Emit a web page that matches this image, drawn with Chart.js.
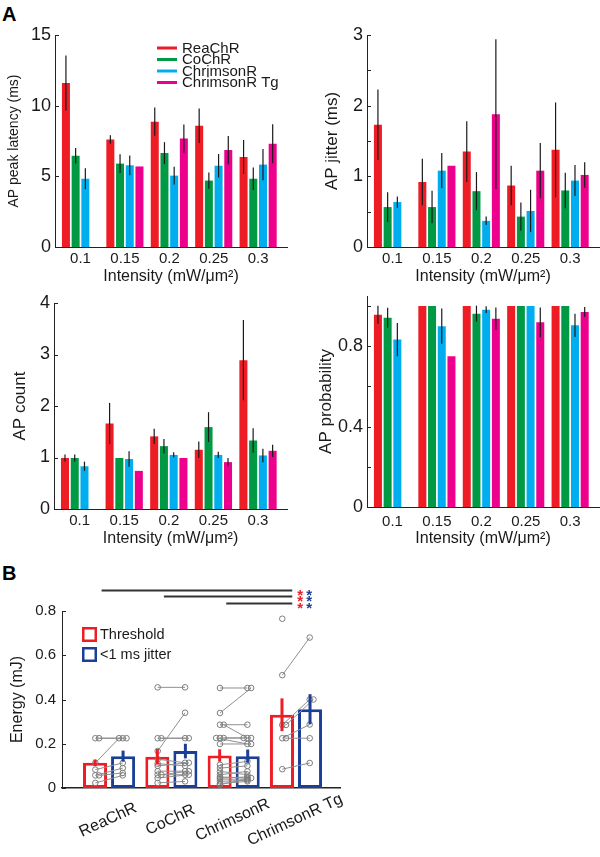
<!DOCTYPE html>
<html>
<head>
<meta charset="utf-8">
<script src="https://cdn.jsdelivr.net/npm/chart.js@4.4.1/dist/chart.umd.min.js"></script>
<style>
  html, body { margin: 0; padding: 0; background: #fff; }
  body { width: 600px; height: 857px; position: relative; overflow: hidden; }
  canvas { position: absolute; }
  .panel { position: absolute; font: bold 20px "Liberation Sans", Arial, sans-serif; color: #000; line-height: 23px; }
</style>
</head>
<body>
<div class="panel" style="left:2px;top:3px">A</div>
<div class="panel" style="left:2px;top:562px">B</div>
<canvas id="cLat" width="300" height="290" style="left:0px;top:0px;width:300px;height:290px"></canvas>
<canvas id="cJit" width="300" height="290" style="left:300px;top:0px;width:300px;height:290px"></canvas>
<canvas id="cCnt" width="300" height="280" style="left:0px;top:280px;width:300px;height:280px"></canvas>
<canvas id="cProb" width="300" height="280" style="left:300px;top:280px;width:300px;height:280px"></canvas>
<canvas id="cEnergy" width="360" height="297" style="left:0px;top:560px;width:360px;height:297px"></canvas>
<script>
// ---------------- Panel A data ----------------
const intensities = [0.1, 0.15, 0.2, 0.25, 0.3];
const intensityLabels = ['0.1', '0.15', '0.2', '0.25', '0.3'];
const series = ['ReaChR', 'CoChR', 'ChrimsonR', 'ChrimsonR Tg'];

// AP peak latency (ms)
const latReaChR      = [11.6, 7.6, 8.87, 8.58, 6.37];
const latCoChR       = [6.46, 5.9, 6.65, 4.7, 4.83];
const latChrimsonR   = [4.83, 5.78, 5.05, 5.75, 5.83];
const latChrimsonRTg = [null, 5.7, 7.67, 6.86, 7.31];
const latErrReaChR      = [1.95, 0.3, 1.0, 1.22, 1.2];
const latErrCoChR       = [0.55, 0.67, 0.77, 0.58, 0.8];
const latErrChrimsonR   = [0.75, 0.7, 0.63, 0.83, 1.1];
const latErrChrimsonRTg = [null, 0, 1.0, 1.0, 1.38];

// AP jitter (ms)
const jitReaChR      = [1.73, 0.92, 1.35, 0.87, 1.375];
const jitCoChR       = [0.565, 0.565, 0.79, 0.43, 0.8];
const jitChrimsonR   = [0.636, 1.08, 0.37, 0.51, 0.94];
const jitChrimsonRTg = [null, 1.15, 1.88, 1.08, 1.02];
const jitErrReaChR      = [0.5, 0.33, 0.43, 0.28, 0.67];
const jitErrCoChR       = [0.21, 0.23, 0.27, 0.2, 0.25];
const jitErrChrimsonR   = [0.08, 0.25, 0.06, 0.3, 0.22];
const jitErrChrimsonRTg = [null, 0, 1.06, 0.39, 0.18];

// AP count
const cntReaChR      = [0.99, 1.66, 1.41, 1.15, 2.89];
const cntCoChR       = [0.99, 0.99, 1.22, 1.59, 1.33];
const cntChrimsonR   = [0.83, 0.97, 1.05, 1.05, 1.04];
const cntChrimsonRTg = [null, 0.74, 0.99, 0.91, 1.13];
const cntErrReaChR      = [0.07, 0.4, 0.15, 0.16, 0.78];
const cntErrCoChR       = [0.07, 0, 0.14, 0.29, 0.24];
const cntErrChrimsonR   = [0.09, 0.15, 0.05, 0.06, 0.13];
const cntErrChrimsonRTg = [null, 0, 0, 0.08, 0.12];

// AP probability
const probReaChR      = [0.957, 1, 1, 1, 1];
const probCoChR       = [0.942, 1, 0.962, 1, 1];
const probChrimsonR   = [0.833, 0.9, 0.982, 1, 0.904];
const probChrimsonRTg = [null, 0.75, 0.937, 0.919, 0.97];
const probErrReaChR      = [0.045, 0, 0, 0, 0];
const probErrCoChR       = [0.05, 0, 0.04, 0, 0];
const probErrChrimsonR   = [0.083, 0.088, 0.017, 0, 0.058];
const probErrChrimsonRTg = [null, 0, 0.056, 0.074, 0.025];

// ---------------- Panel B data ----------------
const constructs = ['ReaChR', 'CoChR', 'ChrimsonR', 'ChrimsonR Tg'];
const energyThr    = [0.114, 0.141, 0.147, 0.331];
const energyThrErr = [0.015, 0.035, 0.028, 0.074];
const energyJit    = [0.144, 0.167, 0.144, 0.356];
const energyJitErr = [0.025, 0.033, 0.030, 0.068];

// individual cells (threshold energy, <1 ms jitter energy), paired by index
const reachrThr    = [0.225, 0.225, 0.113, 0.083, 0.057, 0.057, 0.023];
const reachrJit    = [0.225, 0.225, 0.225, 0.113, 0.090, 0.068, 0.057];
const cochrThr     = [0.455, 0.225, 0.225, 0.167, 0.130, 0.110, 0.100, 0.076, 0.060, 0.060, 0.045, 0.023];
const cochrJit     = [0.455, 0.225, 0.225, 0.340, 0.114, 0.100, 0.114, 0.076, 0.060, 0.076, 0.060, 0.030];
const chrimsonrThr = [0.452, 0.339, 0.286, 0.286, 0.226, 0.226, 0.226, 0.199, 0.105, 0.090, 0.075, 0.060, 0.050, 0.045, 0.040, 0.030, 0.020, 0.015];
const chrimsonrJit = [0.452, 0.452, 0.286, 0.226, 0.226, 0.226, 0.199, 0.199, 0.120, 0.100, 0.060, 0.075, 0.045, 0.050, 0.040, 0.035, 0.030, 0.045];
const tgThr        = [0.765, 0.510, 0.285, 0.285, 0.225, 0.225, 0.085];
const tgJit        = [null, 0.680, 0.400, 0.400, 0.287, 0.225, 0.113];

const sigFrom = ['ReaChR', 'CoChR', 'ChrimsonR'];
const sigTo = 'ChrimsonR Tg';
const sigMark = '*';

// ---------------- styles ----------------
const FONT = '"Liberation Sans", Arial, Helvetica, sans-serif';
const TXT = '#1a1a1a';
const AXIS = '#222';
const seriesColors = ['#EE1C25', '#009A44', '#00AEEF', '#EC008C'];
const RED = '#EE1C25';
const BLUE = '#1B3F96';
Chart.defaults.font.family = FONT;
Chart.defaults.color = TXT;

// ---------------- plugins ----------------
const errorBars = {
  id: 'errorBars',
  afterDatasetsDraw(chart) {
    const ctx = chart.ctx;
    const ys = chart.scales.y;
    chart.data.datasets.forEach((ds, di) => {
      if (!ds.errors) return;
      const meta = chart.getDatasetMeta(di);
      meta.data.forEach((el, i) => {
        const v = ds.data[i].y;
        const e = ds.errors[i];
        if (v == null || !e) return;
        ctx.save();
        ctx.strokeStyle = ds.errorColor || '#1a1a1a';
        ctx.lineWidth = ds.errorWidth || 1.2;
        ctx.beginPath();
        ctx.moveTo(el.x, ys.getPixelForValue(v - e));
        ctx.lineTo(el.x, ys.getPixelForValue(v + e));
        ctx.stroke();
        ctx.restore();
      });
    });
  }
};

const inwardTicks = {
  id: 'inwardTicks',
  afterDraw(chart) {
    const ctx = chart.ctx, ys = chart.scales.y, x0 = chart.chartArea.left;
    ctx.save();
    ctx.strokeStyle = AXIS; ctx.lineWidth = 1;
    ys.ticks.forEach(t => {
      const py = Math.round(ys.getPixelForValue(t.value)) + 0.5;
      ctx.beginPath(); ctx.moveTo(x0, py); ctx.lineTo(x0 + 4, py); ctx.stroke();
    });
    ctx.restore();
  }
};

const seriesKey = {
  id: 'seriesKey',
  afterDraw(chart, args, opts) {
    if (!opts || !opts.display) return;
    const ctx = chart.ctx, {left, top} = chart.chartArea;
    ctx.save();
    ctx.font = '15px ' + FONT;
    ctx.textBaseline = 'middle';
    chart.data.datasets.forEach((ds, k) => {
      const y = top + 13 + k * 11.5;
      ctx.strokeStyle = ds.backgroundColor; ctx.lineWidth = 3;
      ctx.beginPath(); ctx.moveTo(left + 102, y); ctx.lineTo(left + 122, y); ctx.stroke();
      ctx.fillStyle = TXT;
      ctx.fillText(ds.label, left + 127, y + 0.5);
    });
    ctx.restore();
  }
};

function makePanelA(id, cfg) {
  return new Chart(document.getElementById(id), {
    type: 'bar',
    data: {
      datasets: series.map((name, k) => ({
        label: name,
        data: intensities.map((x, i) => ({ x: x, y: cfg.values[k][i] })),
        errors: cfg.errors[k],
        backgroundColor: seriesColors[k],
        borderWidth: 0,
        categoryPercentage: 0.874,
        barPercentage: 0.825
      }))
    },
    options: {
      responsive: false, animation: false, devicePixelRatio: 1,
      layout: { padding: { left: 0, right: cfg.padRight, top: cfg.padTop, bottom: 0 } },
      plugins: { legend: { display: false }, tooltip: { enabled: false }, seriesKey: { display: !!cfg.legend } },
      scales: {
        x: {
          type: 'linear', min: 0.0713, max: 0.3325, offset: false,
          grid: { display: false, drawTicks: false },
          border: { display: true, color: AXIS, width: 1 },
          afterBuildTicks: s => { s.ticks = intensities.map(v => ({ value: v })); },
          ticks: { autoSkip: false, maxRotation: 0, minRotation: 0, padding: cfg.xTickPad, font: { size: 15 }, color: TXT,
                   callback: (v, i) => intensityLabels[i] },
          title: { display: true, text: 'Intensity (mW/μm²)', font: { size: 16 }, color: TXT,
                   padding: { top: 0, bottom: cfg.xTitlePad } },
          afterFit: s => { s.height = cfg.xHeight; }
        },
        y: {
          type: 'linear', min: cfg.yMin, max: cfg.yMax,
          grid: { display: false, drawTicks: false },
          border: { display: true, color: AXIS, width: 1 },
          afterBuildTicks: cfg.yTicks ? (s => { s.ticks = cfg.yTicks.map(v => ({ value: v })); }) : undefined,
          ticks: { stepSize: cfg.step, padding: 4, font: { size: 18 }, color: TXT, callback: cfg.tickLabel },
          title: { display: true, text: cfg.yTitle, font: { size: cfg.yTitleSize }, color: TXT,
                   padding: { top: cfg.yTitlePad, bottom: 0 } },
          afterFit: s => { s.width = cfg.yWidth; }
        }
      }
    },
    plugins: [errorBars, inwardTicks, seriesKey]
  });
}

makePanelA('cLat', {
  values: [latReaChR, latCoChR, latChrimsonR, latChrimsonRTg],
  errors: [latErrReaChR, latErrCoChR, latErrChrimsonR, latErrChrimsonRTg],
  yMin: 0, yMax: 15, step: 5, tickLabel: v => String(v),
  yTitle: 'AP peak latency (ms)', yTitleSize: 14, yTitlePad: 6, yWidth: 55,
  padRight: 13, padTop: 35, xHeight: 43, xTickPad: 3, xTitlePad: 4, legend: true
});
makePanelA('cJit', {
  values: [jitReaChR, jitCoChR, jitChrimsonR, jitChrimsonRTg],
  errors: [jitErrReaChR, jitErrCoChR, jitErrChrimsonR, jitErrChrimsonRTg],
  yMin: 0, yMax: 3, step: 0.5, tickLabel: v => (Number.isInteger(v) ? String(v) : ''),
  yTitle: 'AP jitter (ms)', yTitleSize: 17, yTitlePad: 22, yWidth: 67,
  padRight: 1, padTop: 35, xHeight: 43, xTickPad: 3, xTitlePad: 4
});
makePanelA('cCnt', {
  values: [cntReaChR, cntCoChR, cntChrimsonR, cntChrimsonRTg],
  errors: [cntErrReaChR, cntErrCoChR, cntErrChrimsonR, cntErrChrimsonRTg],
  yMin: 0, yMax: 4, step: 1, tickLabel: v => String(v),
  yTitle: 'AP count', yTitleSize: 17, yTitlePad: 10, yWidth: 54,
  padRight: 13, padTop: 23, xHeight: 51, xTickPad: 3, xTitlePad: 12
});
makePanelA('cProb', {
  values: [probReaChR, probCoChR, probChrimsonR, probChrimsonRTg],
  errors: [probErrReaChR, probErrCoChR, probErrChrimsonR, probErrChrimsonRTg],
  yMin: 0, yMax: 1.05, yTicks: [0, 0.2, 0.4, 0.6, 0.8, 1.0],
  tickLabel: v => (v === 0 ? '0' : (v === 0.4 || v === 0.8 ? String(v) : '')),
  yTitle: 'AP probability', yTitleSize: 17, yTitlePad: 16, yWidth: 67,
  padRight: 1, padTop: 16, xHeight: 53, xTickPad: 6, xTitlePad: 12
});

// ---------------- Panel B ----------------
const cellThr = [reachrThr, cochrThr, chrimsonrThr, tgThr];
const cellJit = [reachrJit, cochrJit, chrimsonrJit, tgJit];
const DODGE = [0, 0.06, -0.06];
const cellPoints = [];
cellThr.forEach((thr, g) => {
  const seenT = {}, seenJ = {};
  thr.forEach((t, i) => {
    const j = cellJit[g][i];
    const kt = seenT[t] = (seenT[t] === undefined ? 0 : seenT[t] + 1);
    const kj = seenJ[j] = (seenJ[j] === undefined ? 0 : seenJ[j] + 1);
    const xT = g + 1 - 0.22 + DODGE[kt % 3];
    const xJ = g + 1 + 0.22 + DODGE[kj % 3];
    if (t != null) cellPoints.push({ x: xT, y: t });
    if (j != null) cellPoints.push({ x: xJ, y: j });
    cellPoints.push({ x: xJ, y: null });
  });
});

const pairKey = {
  id: 'pairKey',
  afterDraw(chart) {
    const ctx = chart.ctx, {left, top} = chart.chartArea;
    const bars = chart.data.datasets.filter(d => d.type !== 'line');
    ctx.save();
    ctx.font = '14.5px ' + FONT;
    ctx.textBaseline = 'middle';
    bars.forEach((ds, k) => {
      const y = top + 16 + k * 20;
      ctx.strokeStyle = ds.borderColor; ctx.lineWidth = 2.5;
      ctx.strokeRect(left + 21.25, y + 1.25, 12.5, 12.5);
      ctx.fillStyle = TXT;
      ctx.fillText(ds.label, left + 38, y + 7.5);
    });
    ctx.restore();
  }
};

const rotLabels = {
  id: 'rotLabels',
  afterDraw(chart) {
    const ctx = chart.ctx, xs = chart.scales.x, yb = chart.chartArea.bottom;
    ctx.save();
    ctx.font = '16px ' + FONT;
    ctx.fillStyle = TXT;
    ctx.textBaseline = 'middle';
    ctx.textAlign = 'center';
    constructs.forEach((lab, i) => {
      ctx.save();
      ctx.translate(xs.getPixelForValue(i + 1) - 1, yb + 32);
      ctx.rotate(-25 * Math.PI / 180);
      ctx.fillText(lab, 0, 0);
      ctx.restore();
    });
    ctx.restore();
  }
};

const sigBars = {
  id: 'sigBars',
  afterDraw(chart) {
    const ctx = chart.ctx, xs = chart.scales.x, ys = chart.scales.y;
    const levels = [0.895, 0.866, 0.837];
    const xEnd = xs.getPixelForValue(constructs.indexOf(sigTo) + 1 - 0.06);
    ctx.save();
    sigFrom.forEach((name, k) => {
      const x0 = xs.getPixelForValue(constructs.indexOf(name) + 1 - 0.12);
      const y = Math.round(ys.getPixelForValue(levels[k])) + 0.5;
      ctx.strokeStyle = '#333'; ctx.lineWidth = 2;
      ctx.beginPath(); ctx.moveTo(x0, y); ctx.lineTo(xEnd, y); ctx.stroke();
      ctx.font = 'bold 15px ' + FONT;
      ctx.textAlign = 'center'; ctx.textBaseline = 'alphabetic';
      ctx.fillStyle = RED; ctx.fillText(sigMark, xEnd + 8, y + 9);
      ctx.fillStyle = BLUE; ctx.fillText(sigMark, xEnd + 17, y + 9);
    });
    ctx.restore();
  }
};

new Chart(document.getElementById('cEnergy'), {
  type: 'bar',
  data: {
    datasets: [
      { type: 'line', label: 'cells', data: cellPoints, order: 0,
        borderColor: '#8f8f8f', borderWidth: 1, tension: 0, spanGaps: false,
        pointRadius: 2.8, pointBorderWidth: 1, pointBorderColor: '#7d7d7d',
        pointBackgroundColor: 'rgba(255,255,255,0)' },
      { label: 'Threshold', data: constructs.map((c, i) => ({ x: i + 1, y: energyThr[i] })),
        errors: energyThrErr, errorColor: RED, errorWidth: 3, order: 1,
        backgroundColor: '#ffffff', borderColor: RED, borderWidth: 3, borderSkipped: false,
        categoryPercentage: 0.9, barPercentage: 0.857 },
      { label: '<1 ms jitter', data: constructs.map((c, i) => ({ x: i + 1, y: energyJit[i] })),
        errors: energyJitErr, errorColor: BLUE, errorWidth: 3, order: 1,
        backgroundColor: '#ffffff', borderColor: BLUE, borderWidth: 3, borderSkipped: false,
        categoryPercentage: 0.9, barPercentage: 0.857 }
    ]
  },
  options: {
    responsive: false, animation: false, devicePixelRatio: 1,
    layout: { padding: { left: 0, right: 20, top: 51, bottom: 0 } },
    plugins: { legend: { display: false }, tooltip: { enabled: false } },
    scales: {
      x: {
        type: 'linear', min: 0.245, max: 4.706, offset: false,
        grid: { display: false, drawTicks: false },
        border: { display: true, color: AXIS, width: 1.5 },
        afterBuildTicks: s => { s.ticks = constructs.map((c, i) => ({ value: i + 1 })); },
        ticks: { display: false },
        afterFit: s => { s.height = 69; }
      },
      y: {
        type: 'linear', min: 0, max: 0.8,
        grid: { display: false, drawTicks: false },
        border: { display: true, color: AXIS, width: 1 },
        ticks: { stepSize: 0.2, padding: 6, font: { size: 15 }, color: TXT },
        title: { display: true, text: 'Energy (mJ)', font: { size: 16 }, color: TXT, padding: { top: 8, bottom: 0 } },
        afterFit: s => { s.width = 62; }
      }
    }
  },
  plugins: [errorBars, inwardTicks, pairKey, rotLabels, sigBars]
});
</script>
</body>
</html>
